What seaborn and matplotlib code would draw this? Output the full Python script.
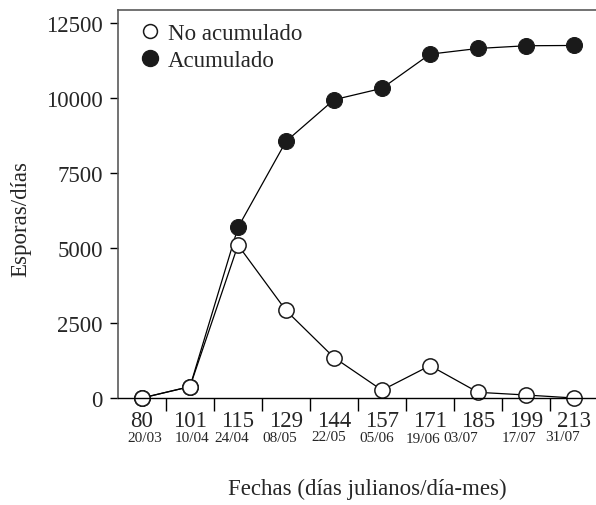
import pandas as pd
import matplotlib.pyplot as plt
import seaborn as sns
from matplotlib.lines import Line2D
from matplotlib.ticker import FixedLocator

# julian days and matching day/month
dias = ["80", "101", "115", "129", "144", "157", "171", "185", "199", "213"]
fechas = ["20/03", "10/04", "24/04", "08/05", "22/05", "05/06", "19/06", "03/07", "17/07", "31/07"]

no_acumulado = [0, 380, 5100, 2920, 1350, 260, 1080, 190, 100, 0]
acumulado = [0, 380, 5690, 8560, 9950, 10330, 11470, 11660, 11750, 11760]

sns.set_style("ticks")
plt.rcParams["font.family"] = ["Liberation Serif", "DejaVu Serif"]

df = pd.DataFrame({"dia": dias, "No acumulado": no_acumulado, "Acumulado": acumulado})

fig = plt.figure(figsize=(5.96, 5.06), dpi=100)
ax = fig.add_axes([118 / 596, 1 - 399 / 506, 480 / 596, 388 / 506])

sns.lineplot(data=df, x="dia", y="Acumulado", ax=ax, color="black", lw=0.9,
             marker="o", markersize=11.5, markerfacecolor="#1a1a1a",
             markeredgecolor="#1a1a1a", clip_on=False, sort=False)
sns.lineplot(data=df, x="dia", y="No acumulado", ax=ax, color="black", lw=0.9,
             marker="o", markersize=11, markerfacecolor="white",
             markeredgecolor="#1a1a1a", markeredgewidth=1.1, clip_on=False, sort=False)

ax.set_xlim(-0.5, 9.5)
ax.set_ylim(0, 12943)
ax.set_yticks([0, 2500, 5000, 7500, 10000, 12500])

# tick marks sit between the categories
ax.xaxis.set_minor_locator(FixedLocator([i + 0.5 for i in range(len(dias) - 1)]))
ax.tick_params(axis="x", which="major", length=0, pad=9, labelsize=16.5)
ax.tick_params(axis="x", which="minor", length=9, width=1, direction="out", color="black")
ax.tick_params(axis="y", length=6, width=1, pad=5, labelsize=16.5, color="black")

for side in ["top", "left"]:
    ax.spines[side].set_color("#5a5a5a")
    ax.spines[side].set_linewidth(1.2)
ax.spines["bottom"].set_color("black")
ax.spines["bottom"].set_linewidth(1)
ax.spines["right"].set_visible(False)

ax.set_xlabel("Fechas (días julianos/día-mes)", fontsize=16.5)
ax.set_ylabel("Esporas/días", fontsize=16.5)
ax.xaxis.set_label_coords(0.519, -0.205)
ax.yaxis.set_label_coords(-0.18, 0.464)

# day/month labels under the julian days (slightly staggered as in the original)
desplaz = [0.06, 0.04, -0.14, -0.14, -0.1, -0.1, -0.14, -0.36, -0.15, -0.23]
alturas = [-0.102, -0.102, -0.102, -0.102, -0.1, -0.102, -0.104, -0.102, -0.102, -0.1]
trans = ax.get_xaxis_transform()
for i, f in enumerate(fechas):
    ax.text(i + desplaz[i], alturas[i], f, transform=trans, ha="center", va="center",
            fontsize=11)

handles = [
    Line2D([], [], ls="none", marker="o", markersize=10, markerfacecolor="white",
           markeredgecolor="#1a1a1a", markeredgewidth=1.1),
    Line2D([], [], ls="none", marker="o", markersize=11.5, markerfacecolor="#1a1a1a",
           markeredgecolor="#1a1a1a"),
]
ax.legend(handles, ["No acumulado", "Acumulado"], loc="upper left", frameon=False,
          fontsize=16.5, handletextpad=0.05, handlelength=1.4, labelspacing=0.25,
          borderaxespad=0.0, bbox_to_anchor=(0.015, 0.99))

fig.savefig("out.png", dpi=100)
